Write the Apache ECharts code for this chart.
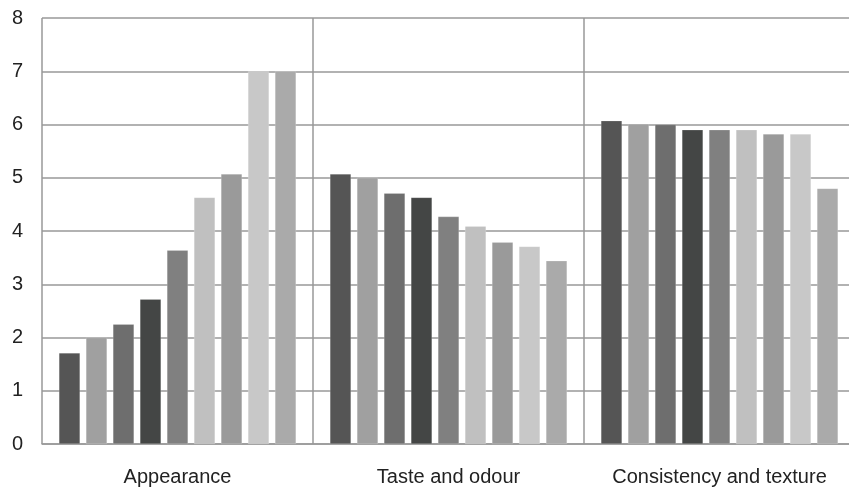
<!DOCTYPE html>
<html>
<head>
<meta charset="utf-8">
<script src="https://cdn.jsdelivr.net/npm/echarts@6/dist/echarts.min.js"></script>
<style>html,body{margin:0;padding:0;background:#fff;overflow:hidden;width:849px;height:488px}#c{width:860px;height:488px}</style>
</head>
<body>
<div id="c"></div>
<script>
const categories = ["Appearance", "Taste and odour", "Consistency and texture"];
const yTicks = [0, 1, 2, 3, 4, 5, 6, 7, 8];
const s1 = [1.71, 5.07, 6.07];
const s2 = [2.00, 5.00, 6.01];
const s3 = [2.25, 4.71, 6.00];
const s4 = [2.72, 4.63, 5.90];
const s5 = [3.64, 4.27, 5.90];
const s6 = [4.63, 4.09, 5.90];
const s7 = [5.07, 3.79, 5.82];
const s8 = [7.00, 3.71, 5.82];
const s9 = [7.00, 3.44, 4.80];
const seriesValues = [s1, s2, s3, s4, s5, s6, s7, s8, s9];
const colors = ["#555555", "#a0a0a0", "#6e6e6e", "#444645", "#808080", "#c0c0c0", "#9a9a9a", "#c8c8c8", "#aaaaaa"];

const chart = echarts.init(document.getElementById('c'));
chart.setOption({
  animation: false,
  grid: { left: 42, right: 5, top: 18, bottom: 44, containLabel: false },
  xAxis: {
    type: 'category',
    data: categories,
    axisTick: { show: false },
    axisLine: { show: true, lineStyle: { color: '#999', width: 1.5 } },
    splitLine: { show: true, interval: 0, lineStyle: { color: '#999', width: 1.5 } },
    axisLabel: { interval: 0, margin: 23, fontSize: 20, color: '#222', fontFamily: 'Liberation Sans, Arial, sans-serif' }
  },
  yAxis: {
    type: 'value',
    min: yTicks[0],
    max: yTicks[yTicks.length - 1],
    interval: 1,
    axisLine: { show: false },
    axisTick: { show: false },
    splitLine: { show: true, lineStyle: { color: '#999', width: 1.5 } },
    axisLabel: { margin: 19, fontSize: 20, color: '#222', fontFamily: 'Liberation Sans, Arial, sans-serif' }
  },
  series: seriesValues.map((vals, i) => ({
    type: 'bar',
    name: 'S' + (i + 1),
    data: vals,
    barGap: '28%',
    barCategoryGap: '12.5%',
    itemStyle: { color: colors[i], borderColor: 'rgba(255,255,255,0.35)', borderWidth: 0.5 }
  }))
});
</script>
</body>
</html>
